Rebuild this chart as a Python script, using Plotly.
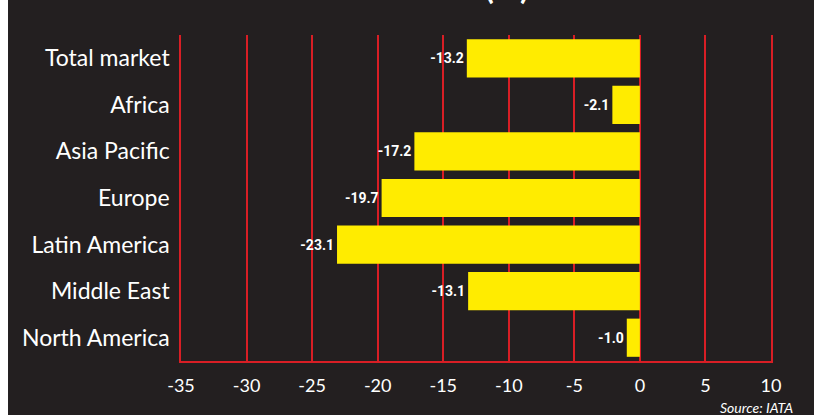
import plotly.graph_objects as go

categories = ["Total market", "Africa", "Asia Pacific", "Europe", "Latin America", "Middle East", "North America"]
values = [-13.2, -2.1, -17.2, -19.7, -23.1, -13.1, -1.0]
x_ticks = [-35, -30, -25, -20, -15, -10, -5, 0, 5, 10]

BG = "#231f20"
RED = "#d81e25"
YELLOW = "#ffec00"

fig = go.Figure(go.Bar(
    y=categories, x=values, orientation="h",
    marker=dict(color=YELLOW, line=dict(width=0)),
    text=[f"{v:.1f}" for v in values],
    textposition="outside",
    textfont=dict(family="Roboto", size=14, color="white", weight="bold"),
    cliponaxis=False,
))

fig.update_layout(
    width=814, height=415,
    margin=dict(l=181, r=43, t=35, b=54),
    paper_bgcolor=BG, plot_bgcolor=BG,
    bargap=0.18, showlegend=False,
    xaxis=dict(range=[-35, 10], tickvals=x_ticks, ticktext=[str(t) for t in x_ticks],
               showgrid=True, gridcolor=RED, gridwidth=1.5, zeroline=False,
               showline=True, linecolor=RED, linewidth=1.5,
               ticks="outside", ticklen=8, tickcolor="rgba(0,0,0,0)",
               tickfont=dict(family="Lato", size=18, color="white")),
    yaxis=dict(categoryorder="array", categoryarray=categories, autorange="reversed",
               showgrid=False, zeroline=False, showline=True, mirror=True,
               linecolor=RED, linewidth=1.5,
               ticks="outside", ticklen=5, tickcolor="rgba(0,0,0,0)",
               tickfont=dict(family="Lato", size=23, color="white")),
    shapes=[dict(type="rect", xref="paper", yref="paper", x0=-0.3068, x1=-0.2932,
                 y0=-0.2, y1=1.2, fillcolor="white", line=dict(width=0), layer="below")],
    annotations=[
        dict(text="Source: IATA", xref="paper", yref="paper", x=1.0407, y=-0.142,
             xanchor="right", yanchor="middle", showarrow=False,
             font=dict(family="Lato", size=14, color="white", style="italic")),
        dict(text="(%)", xref="paper", yref="paper", x=0.5525, y=1.084,
             xanchor="center", yanchor="bottom", showarrow=False,
             font=dict(family="Lato", size=32, color="white", weight="bold")),
    ],
)

fig.write_html("out.html")
